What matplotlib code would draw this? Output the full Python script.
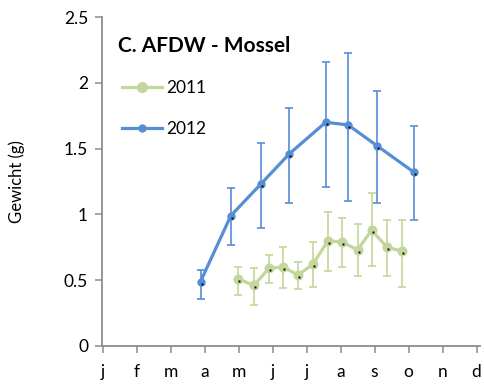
import matplotlib
matplotlib.use("Agg")
import matplotlib.pyplot as plt
import matplotlib.transforms as mtransforms
from matplotlib.lines import Line2D

plt.rcParams['font.family'] = ['Lato', 'DejaVu Sans']

# Month positions (0 = january) and sample values
months = ['j', 'f', 'm', 'a', 'm', 'j', 'j', 'a', 's', 'o', 'n', 'd']

x2011 = [3.99, 4.45, 4.89, 5.31, 5.75, 6.18, 6.63, 7.05, 7.50, 7.91, 8.37, 8.81]
y2011 = [0.51, 0.46, 0.59, 0.60, 0.54, 0.62, 0.80, 0.79, 0.73, 0.88, 0.75, 0.72]
err2011_hi = [0.60, 0.59, 0.69, 0.75, 0.64, 0.79, 1.02, 0.97, 0.93, 1.16, 0.96, 0.96]
err2011_lo = [0.39, 0.31, 0.48, 0.44, 0.43, 0.45, 0.57, 0.60, 0.53, 0.61, 0.53, 0.45]

x2012 = [2.88, 3.77, 4.65, 5.49, 6.56, 7.22, 8.08, 9.16]
y2012 = [0.49, 0.99, 1.23, 1.46, 1.70, 1.68, 1.52, 1.32]
err2012_hi = [0.58, 1.20, 1.54, 1.81, 2.16, 2.23, 1.94, 1.67]
err2012_lo = [0.36, 0.77, 0.90, 1.09, 1.21, 1.10, 1.09, 0.96]

green = '#C3D69B'
blue = '#558ED5'
axis_gray = '#8C8C8C'

fig = plt.figure(figsize=(4.84, 3.85), dpi=100)
ax = fig.add_axes([0.2107, 0.1013, 0.781, 0.8545])

def draw_series(xs, ys, lo, hi, color, ms, zo):
    yerr = [[y - l for y, l in zip(ys, lo)], [h - y for y, h in zip(ys, hi)]]
    ax.errorbar(xs, ys, yerr=yerr, fmt='none', ecolor=color, elinewidth=1.2,
                capsize=3, capthick=1.2, zorder=zo)
    ax.plot(xs, ys, color=color, lw=2.3, marker='o', ms=ms,
            mec=color, mfc=color, zorder=zo + 1)
    # tiny dark data points sitting just below each marker
    off = mtransforms.ScaledTranslation(1.0 / 100, -2.0 / 100, fig.dpi_scale_trans)
    ax.plot(xs, ys, ls='none', marker='s', ms=1.4, color='black', mew=0,
            transform=ax.transData + off, zorder=zo + 2)

draw_series(x2011, y2011, err2011_lo, err2011_hi, green, 6.2, 3)
draw_series(x2012, y2012, err2012_lo, err2012_hi, blue, 5.0, 6)

ax.set_xlim(-0.02, 11.1)
ax.set_ylim(0, 2.5)
ax.set_xticks(range(12))
ax.set_xticklabels(months)
ax.set_yticks([0, 0.5, 1, 1.5, 2, 2.5])
ax.set_yticklabels(['0', '0.5', '1', '1.5', '2', '2.5'])

for side in ['top', 'right']:
    ax.spines[side].set_visible(False)
for side in ['left', 'bottom']:
    ax.spines[side].set_color(axis_gray)
    ax.spines[side].set_linewidth(1.3)

ax.tick_params(axis='both', colors=axis_gray, length=5, width=1.1,
               labelcolor='black', labelsize=12.5)
ax.tick_params(axis='x', pad=8)
ax.tick_params(axis='y', pad=5)

ax.set_ylabel('Gewicht (g)', fontsize=12, labelpad=28)

fig.text(118 / 484, 1 - 46 / 385, 'C. AFDW - Mossel', fontsize=15,
         fontweight='bold', va='center', ha='left')

handles = [
    Line2D([], [], color=green, lw=2.3, marker='o', ms=7, mec=green, mfc=green),
    Line2D([], [], color=blue, lw=2.3, marker='o', ms=5, mec=blue, mfc=blue),
]
leg = ax.legend(handles, ['2011', '2012'], loc='upper left',
                bbox_to_anchor=(0.035, 0.83), frameon=False, fontsize=12.5,
                handlelength=2.3, handletextpad=0.25, labelspacing=1.45,
                borderaxespad=0)

fig.savefig('out.png', dpi=100)
